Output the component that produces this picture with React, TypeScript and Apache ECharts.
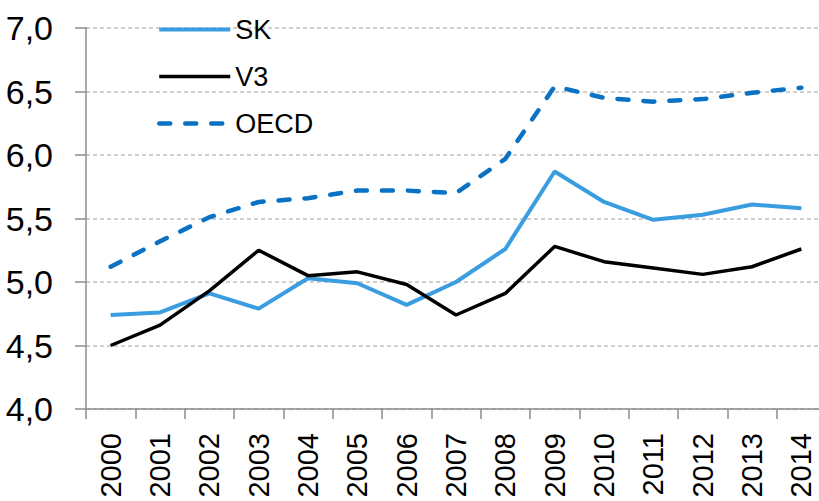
import React, { useEffect, useRef } from "react";
import * as echarts from "echarts";

const years = ["2000","2001","2002","2003","2004","2005","2006","2007","2008","2009","2010","2011","2012","2013","2014"];
const skValues = [4.74, 4.76, 4.91, 4.79, 5.03, 4.99, 4.82, 5.0, 5.26, 5.87, 5.63, 5.49, 5.53, 5.61, 5.58];
const v3Values = [4.5, 4.66, 4.93, 5.25, 5.05, 5.08, 4.98, 4.74, 4.91, 5.28, 5.16, 5.11, 5.06, 5.12, 5.26];
const oecdValues = [5.12, 5.32, 5.51, 5.63, 5.66, 5.72, 5.72, 5.7, 5.97, 6.54, 6.45, 6.42, 6.44, 6.49, 6.53];
const seriesNames = ["SK", "V3", "OECD"];

const FONT = "'Liberation Sans', Arial, sans-serif";

export default function App() {
  const ref = useRef<HTMLDivElement>(null);
  useEffect(() => {
    document.body.style.margin = "0";
    document.body.style.overflow = "hidden";
    document.documentElement.style.overflow = "hidden";
    const chart = echarts.init(ref.current!, null, { renderer: "svg" });
    chart.setOption({
      animation: false,
      backgroundColor: "#ffffff",
      textStyle: { fontFamily: FONT },
      grid: { left: 86, right: 0, top: 28, bottom: 92, containLabel: false },
      legend: {
        orient: "vertical",
        left: 157,
        top: 16,
        padding: 0,
        itemWidth: 71,
        itemHeight: 14,
        itemGap: 20,
        itemStyle: { opacity: 0 },
        lineStyle: { width: "inherit" },
        textStyle: { fontFamily: FONT, fontSize: 27, color: "#000000" },
        data: seriesNames,
      },
      xAxis: {
        type: "category",
        data: years,
        boundaryGap: true,
        axisLine: { lineStyle: { color: "#8c8c8c", width: 1.5 } },
        axisTick: { show: true, length: 10, lineStyle: { color: "#8c8c8c", width: 1.5 } },
        axisLabel: { rotate: 90, fontSize: 29, color: "#000000", margin: 24, fontFamily: FONT },
        splitLine: { show: false },
      },
      yAxis: {
        type: "value",
        min: 4,
        max: 7,
        interval: 0.5,
        axisLine: { show: true, lineStyle: { color: "#8c8c8c", width: 1.5 } },
        axisTick: { show: true, length: 11, lineStyle: { color: "#8c8c8c", width: 1.5 } },
        axisLabel: {
          fontSize: 34,
          color: "#000000",
          margin: 33,
          fontFamily: FONT,
          formatter: (v: number) => v.toFixed(1).replace(".", ","),
        },
        splitLine: { show: true, lineStyle: { color: "#c0c0c0", width: 1.5, type: [4, 3] } },
      },
      series: [
        {
          name: seriesNames[0],
          type: "line",
          data: skValues,
          symbol: "none",
          lineStyle: { color: "#3a9de0", width: 4 },
          itemStyle: { color: "#3a9de0" },
          z: 3,
        },
        {
          name: seriesNames[1],
          type: "line",
          data: v3Values,
          symbol: "none",
          lineStyle: { color: "#000000", width: 3.5 },
          itemStyle: { color: "#000000" },
          z: 4,
        },
        {
          name: seriesNames[2],
          type: "line",
          data: oecdValues,
          symbol: "none",
          lineStyle: { color: "#0a72c4", width: 4.5, type: [11, 15], cap: "round" },
          itemStyle: { color: "#0a72c4" },
          z: 2,
        },
      ],
    });
    return () => chart.dispose();
  }, []);
  return <div ref={ref} style={{ width: 826, height: 501 }} />;
}
